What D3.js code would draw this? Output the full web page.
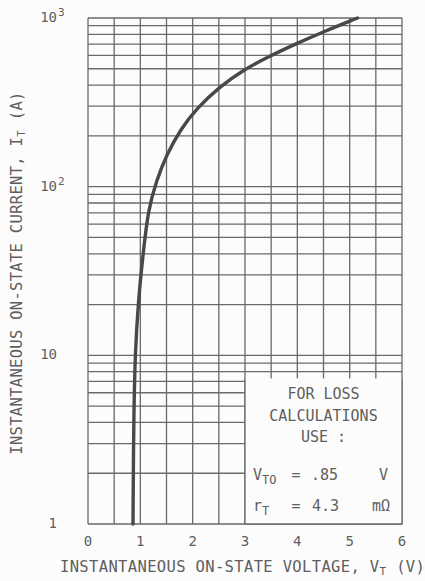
<!DOCTYPE html>
<html>
<head>
<meta charset="utf-8">
<script src="https://cdn.jsdelivr.net/npm/d3@7"></script>
<style>
  body { margin: 0; background: #fcfcfc; }
  svg { display: block; }
  text { font-family: "DejaVu Sans Mono", monospace; fill: #5e5e5e; }
</style>
</head>
<body>
<div class="chart"></div>
<script>
// on-state characteristic
var voltage = [0.86, 0.87, 0.88, 0.90, 0.96, 1.06, 1.15, 1.31, 1.50, 1.76, 2.08, 2.52, 2.97, 3.45, 3.96, 4.50, 5.15];
var current = [1, 3, 5, 10, 21, 42, 73, 109, 154, 217, 292, 392, 492, 590, 700, 830, 1000];

var xTicks = [0, 1, 2, 3, 4, 5, 6];
var xGrid = [0, 0.5, 1, 1.5, 2, 2.5, 3, 3.5, 4, 4.5, 5, 5.5, 6];
var yTicks = [
  {v: 1, base: "1", exp: ""},
  {v: 10, base: "10", exp: ""},
  {v: 100, base: "10", exp: "2"},
  {v: 1000, base: "10", exp: "3"}
];
var boxLines = ["FOR LOSS", "CALCULATIONS", "USE :"];

var width = 425,
    height = 581,
    margin = {top: 18, right: 23, bottom: 57, left: 88};

var svg = d3.select(".chart").append("svg")
    .attr("width", width)
    .attr("height", height);

var x = d3.scaleLinear().domain([0, 6]).range([margin.left, width - margin.right]);
var y = d3.scaleLog().domain([1, 1000]).range([height - margin.bottom, margin.top]);

// log grid: 1..9 in every decade
var yGrid = [];
for (var d = 1; d < 1000; d *= 10) {
  for (var k = 1; k < 10; k++) yGrid.push(d * k);
}
yGrid.push(1000);

var grid = svg.append("g")
    .attr("stroke", "#6a6a6a")
    .attr("stroke-width", 1.3);

grid.selectAll(".hg").data(yGrid).enter().append("line")
    .attr("x1", x(0)).attr("x2", x(6))
    .attr("y1", function(d){ return y(d); })
    .attr("y2", function(d){ return y(d); });

grid.selectAll(".vg").data(xGrid).enter().append("line")
    .attr("x1", function(d){ return x(d); })
    .attr("x2", function(d){ return x(d); })
    .attr("y1", y(1)).attr("y2", y(1000));

// the "for loss calculations" box sits over the grid
svg.append("rect")
    .attr("x", x(3)).attr("y", y(7.3))
    .attr("width", x(6) - x(3))
    .attr("height", y(1) - y(7.3))
    .attr("fill", "#fcfcfc");
svg.append("path")
    .attr("d", "M" + x(3) + "," + y(7.3) + "V" + y(1) + "H" + x(6) + "V" + y(7.3))
    .attr("fill", "none")
    .attr("stroke", "#6a6a6a")
    .attr("stroke-width", 1.3);

// curve (b-spline to smooth out reading noise)
var pts = voltage.map(function(v, i){ return [v, current[i]]; });
var line = d3.line()
    .x(function(d){ return x(d[0]); })
    .y(function(d){ return y(d[1]); })
    .curve(d3.curveBasis);

svg.append("path")
    .datum(pts)
    .attr("d", line)
    .attr("fill", "none")
    .attr("stroke", "#484848")
    .attr("stroke-width", 3.4)
    .attr("stroke-linecap", "round");

// x tick labels
svg.selectAll(".xt").data(xTicks).enter().append("text")
    .attr("x", function(d){ return x(d); })
    .attr("y", y(1) + 22)
    .attr("text-anchor", "middle")
    .style("font-size", "14px")
    .text(function(d){ return d; });

// y tick labels
var yl = svg.selectAll(".yt").data(yTicks).enter().append("g");
yl.append("text")
    .attr("x", 57)
    .attr("y", function(d){ return y(d.v) + 4; })
    .attr("text-anchor", "end")
    .style("font-size", "14px")
    .text(function(d){ return d.base; });
yl.append("text")
    .attr("x", 58)
    .attr("y", function(d){ return y(d.v) - 2; })
    .style("font-size", "11px")
    .text(function(d){ return d.exp; });

// axis titles
var xt = svg.append("text")
    .attr("x", 60)
    .attr("y", 572)
    .style("font-size", "15.5px")
    .style("letter-spacing", "0.35px");
xt.append("tspan").text("INSTANTANEOUS ON-STATE VOLTAGE, V");
xt.append("tspan").attr("dy", 3).style("font-size", "11px").text("T");
xt.append("tspan").attr("dy", -3).text(" (V)");

var yt = svg.append("text")
    .attr("transform", "translate(22,273) rotate(-90)")
    .attr("text-anchor", "middle")
    .style("font-size", "15.5px")
    .style("letter-spacing", "0.3px");
yt.append("tspan").text("INSTANTANEOUS ON-STATE CURRENT, I");
yt.append("tspan").attr("dy", 3).style("font-size", "11px").text("T");
yt.append("tspan").attr("dy", -3).text(" (A)");

// box text
var cx = x(4.5);
svg.selectAll(".bl").data(boxLines).enter().append("text")
    .attr("x", cx)
    .attr("y", function(d, i){ return 399 + i * 21.5; })
    .attr("text-anchor", "middle")
    .style("font-size", "15px")
    .text(function(d){ return d; });

var r1 = svg.append("text").attr("x", 253).attr("y", 480).style("font-size", "15px");
r1.append("tspan").text("V");
r1.append("tspan").attr("dy", 4).style("font-size", "12px").text("TO");
svg.append("text").attr("x", 296).attr("y", 480).attr("text-anchor", "middle").style("font-size", "15px").text("=");
svg.append("text").attr("x", 311).attr("y", 480).style("font-size", "15px").text(".85");
svg.append("text").attr("x", 388).attr("y", 480).attr("text-anchor", "end").style("font-size", "15px").text("V");

var r2 = svg.append("text").attr("x", 253).attr("y", 511).style("font-size", "15px");
r2.append("tspan").text("r");
r2.append("tspan").attr("dy", 4).style("font-size", "12px").text("T");
svg.append("text").attr("x", 296).attr("y", 511).attr("text-anchor", "middle").style("font-size", "15px").text("=");
svg.append("text").attr("x", 312).attr("y", 511).style("font-size", "15px").text("4.3");
svg.append("text").attr("x", 390).attr("y", 511).attr("text-anchor", "end").style("font-size", "15px").text("mΩ");
</script>
</body>
</html>
